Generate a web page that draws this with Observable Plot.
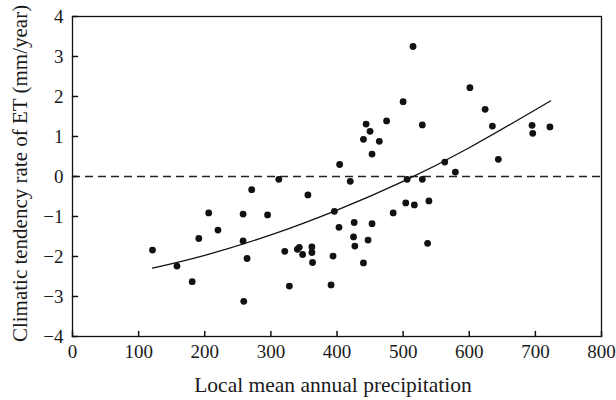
<!DOCTYPE html>
<html><head><meta charset="utf-8">
<script src="https://cdn.jsdelivr.net/npm/d3@7"></script>
<script src="https://cdn.jsdelivr.net/npm/@observablehq/plot@0.6"></script>
<style>body{margin:0;background:#fff;} svg{display:block}</style>
</head><body><div id="chart"></div>
<script>
const precipitation = [121,158,181,191,206,220,258,258,264,259,271,295,312,321,328,340,343,348,356,362,362,363,391,394,396,403,404,420,426,425,427,440,447,453,440,444,450,453,464,475,485,500,504,506,515,517,529,529,539,537,563,579,601,624,635,644,695,696,722];
const tendency = [-1.84,-2.24,-2.63,-1.55,-0.91,-1.34,-0.94,-1.61,-2.05,-3.12,-0.33,-0.96,-0.07,-1.87,-2.74,-1.82,-1.77,-1.95,-0.46,-1.76,-1.90,-2.15,-2.71,-1.99,-0.87,-1.27,0.30,-0.12,-1.15,-1.51,-1.74,-2.16,-1.59,-1.18,0.93,1.31,1.13,0.56,0.88,1.39,-0.91,1.87,-0.66,-0.07,3.25,-0.71,-0.07,1.29,-0.61,-1.67,0.36,0.11,2.22,1.68,1.26,0.43,1.28,1.08,1.24];
const fitPrecip = [121,200,300,400,500,600,723];
const fitTendency = [-2.29,-1.97,-1.46,-0.84,-0.12,0.72,1.89];
const xTicks = [0,100,200,300,400,500,600,700,800];
const yTicks = [-4,-3,-2,-1,0,1,2,3,4];
const yTickLabels = ["−4","−3","−2","−1","0","1","2","3","4"];
const xTitle = "Local mean annual precipitation";
const yTitle = "Climatic tendency rate of ET (mm/year)";

const points = precipitation.map((x, i) => ({x, y: tendency[i]}));
const fit = fitPrecip.map((x, i) => ({x, y: fitTendency[i]}));
const tickShape = {draw(ctx, l) { ctx.moveTo(0, 0); ctx.lineTo(0, -l); }};
const font = "'Liberation Serif', 'Times New Roman', serif";

const chart = Plot.plot({
  width: 616, height: 400,
  marginLeft: 72, marginRight: 15, marginTop: 16, marginBottom: 64,
  style: {fontFamily: font, background: "white", color: "#1a1a1a"},
  x: {domain: [0, 800]},
  y: {domain: [-4, 4]},
  marks: [
    Plot.ruleY([0], {stroke: "#222", strokeWidth: 1.3, strokeDasharray: "8,5"}),
    Plot.line(fit, {x: "x", y: "y", curve: "natural", stroke: "#111", strokeWidth: 1.3}),
    Plot.dot(points, {x: "x", y: "y", r: 3.4, fill: "#111", stroke: null}),
    Plot.frame({stroke: "#111", strokeWidth: 1.3}),
    Plot.vector(xTicks, {x: d => d, frameAnchor: "bottom", length: 5, rotate: 0, anchor: "start", shape: tickShape, stroke: "#111"}),
    Plot.vector(yTicks, {y: d => d, frameAnchor: "left", length: 5, rotate: 90, anchor: "start", shape: tickShape, stroke: "#111"}),
    Plot.axisX(xTicks, {tickSize: 0, tickPadding: 8, fontSize: 19, label: null}),
    Plot.axisY(yTicks, {tickSize: 0, tickPadding: 9, fontSize: 19, label: null, tickFormat: d => yTickLabels[yTicks.indexOf(d)]}),
    Plot.text([xTitle], {frameAnchor: "bottom", dy: 49, dx: -4, text: d => d, fontSize: 21.5, lineAnchor: "middle", textAnchor: "middle"}),
    Plot.text([yTitle], {frameAnchor: "left", dx: -52, dy: -3, rotate: -90, text: d => d, fontSize: 21, lineAnchor: "middle", textAnchor: "middle"})
  ]
});
document.getElementById("chart").append(chart);
</script>
</body></html>
